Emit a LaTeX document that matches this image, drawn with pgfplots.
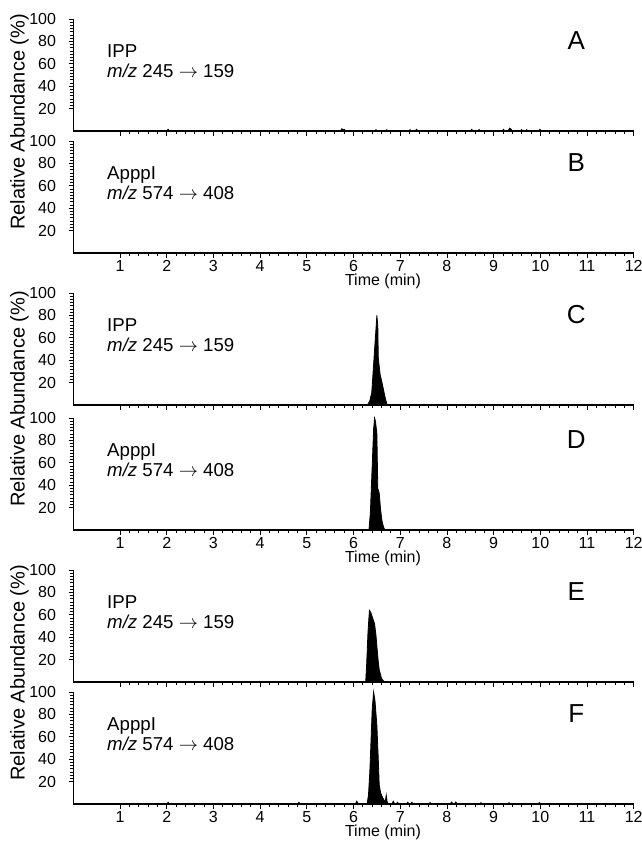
\documentclass[border=0pt]{standalone}
\usepackage{fontspec}
\setmainfont{Liberation Sans}
\usepackage{pgfplots}
\pgfplotsset{compat=1.18}

% common look of one chromatogram panel
\pgfplotsset{
  chrom/.style={
    scale only axis, width=420.3pt, height=84pt,
    anchor=south west,
    xmin=0, xmax=12, ymin=0, ymax=100,
    axis x line*=bottom, axis y line*=left,
    x axis line style={line width=1.4pt},
    y axis line style={line width=1pt},
    xtick={1,...,12}, minor x tick num=4,
    ytick={20,40,60,80,100}, minor y tick num=6,
    tick align=outside,
    major tick length=3.5pt, minor tick length=2.5pt,
    tick style={black, line width=0.6pt},
    every tick label/.append style={font=\fontsize{12}{14}\selectfont},
    every y tick label/.append style={anchor=east, xshift=-6pt},
    every x tick label/.append style={anchor=north, yshift=1.5pt},
    /pgf/number format/assume math mode=true,
    clip=false,
  },
  trace/.style={draw=black, fill=black, line width=0.6pt},
}
\newcommand{\lab}[3]{%
  \node[anchor=base west, inner sep=0pt, font=\fontsize{14}{16}\selectfont] at (axis cs:0.72,66) {#1};
  \node[anchor=base west, inner sep=0pt, font=\fontsize{14}{16}\selectfont] at (axis cs:0.72,48) {\textit{m/z} #2};
  \node[anchor=base, inner sep=0pt, font=\fontsize{19.5}{22}\selectfont] at (axis cs:10.77,73) {#3};}
\newcommand{\ylab}{%
  \node[rotate=90, anchor=center, font=\fontsize{15}{17}\selectfont]
    at ([xshift=-40.5pt]rel axis cs:0,1.17) {Relative Abundance (\%)};}
\newcommand{\tlab}{%
  \node[anchor=north, font=\fontsize{12}{14}\selectfont, inner sep=0pt]
    at ([yshift=-15.5pt]axis cs:6.63,0) {Time (min)};}

\begin{document}
\begin{tikzpicture}
% ---- A ----
\begin{axis}[chrom, at={(0pt,504.75pt)}, xticklabels={}]
\addplot[trace] coordinates {
 (0,0) (2.00,0) (2.03,1.5) (2.06,0) (5.72,0) (5.75,2) (5.78,1) (5.80,1.5) (5.83,0)
 (6.45,0) (6.48,1.2) (6.51,0) (6.68,0) (6.71,1.2) (6.74,0) (7.18,0) (7.21,1.2) (7.24,0)
 (7.32,0) (7.35,1.5) (7.38,0) (8.50,0) (8.53,1.5) (8.56,0) (8.66,0) (8.69,1.2) (8.72,0)
 (9.18,0) (9.21,1.5) (9.24,0) (9.31,0) (9.34,2.5) (9.37,1.8) (9.40,0) (9.57,0) (9.60,1.2)
 (9.63,0) (9.68,0) (9.71,1.2) (9.74,0) (9.96,0) (9.99,1.5) (10.02,0) (12,0)} \closedcycle;
\lab{IPP}{245 $\rightarrow$ 159}{A}
\end{axis}
% ---- B ----
\begin{axis}[chrom, at={(0pt,413.25pt)}]
\addplot[trace] coordinates {(0,0) (12,0)};
\lab{ApppI}{574 $\rightarrow$ 408}{B}
\ylab
\tlab
\end{axis}
% ---- C ----
\begin{axis}[chrom, at={(0pt,299.25pt)}, xticklabels={}]
\addplot[trace] coordinates {
 (0,0) (6.30,0) (6.35,4) (6.39,11) (6.45,49) (6.50,80) (6.52,70) (6.53,42) (6.57,27)
 (6.61,20) (6.64,14) (6.68,6) (6.72,0) (12,0)} \closedcycle;
\lab{IPP}{245 $\rightarrow$ 159}{C}
\end{axis}
% ---- D ----
\begin{axis}[chrom, at={(0pt,205.5pt)}]
\addplot[trace] coordinates {
 (0,0) (6.33,0) (6.36,15) (6.39,47) (6.43,90) (6.45,100) (6.47,97) (6.50,86) (6.51,60)
 (6.52,37) (6.55,33) (6.58,18) (6.61,8) (6.64,3) (6.67,0) (12,0)} \closedcycle;
\lab{ApppI}{574 $\rightarrow$ 408}{D}
\ylab
\tlab
\end{axis}
% ---- E ----
\begin{axis}[chrom, at={(0pt,91.5pt)}, xticklabels={}]
\addplot[trace] coordinates {
 (0,0) (6.26,0) (6.28,15) (6.31,45) (6.34,64) (6.37,62) (6.41,57) (6.45,52) (6.48,42)
 (6.50,32) (6.53,18) (6.55,11) (6.60,3) (6.64,1) (6.67,0) (12,0)} \closedcycle;
\lab{IPP}{245 $\rightarrow$ 159}{E}
\end{axis}
% ---- F ----
\begin{axis}[chrom, at={(0pt,0pt)}]
\addplot[trace] coordinates {
 (0,0) (2.00,0) (2.03,1.5) (2.06,0) (4.80,0) (4.83,1.5) (4.86,0) (6.04,0) (6.07,2.5) (6.10,0)
 (6.29,0) (6.32,8) (6.35,30) (6.40,85) (6.43,100) (6.46,92) (6.50,70) (6.53,40) (6.55,17)
 (6.58,10) (6.62,6) (6.66,3) (6.68,2) (6.70,8) (6.72,2) (6.74,0)
 (6.82,0) (6.85,2.5) (6.88,0) (6.91,0) (6.94,1.5) (6.97,0) (7.13,0) (7.16,1.5) (7.19,0)
 (7.22,0) (7.25,1.5) (7.28,0) (7.61,0) (7.64,1.2) (7.67,0) (8.07,0) (8.10,1.8) (8.13,0)
 (8.16,0) (8.19,1.8) (8.22,0) (8.70,0) (8.73,1.2) (8.76,0) (9.30,0) (9.33,1.2) (9.36,0)
 (9.95,0) (9.98,1.2) (10.01,0) (12,0)} \closedcycle;
\lab{ApppI}{574 $\rightarrow$ 408}{F}
\ylab
\tlab
\end{axis}
\pgfresetboundingbox
\path[use as bounding box] (-55pt,-27.75pt) rectangle (425.8pt,603pt);
\end{tikzpicture}
\end{document}
